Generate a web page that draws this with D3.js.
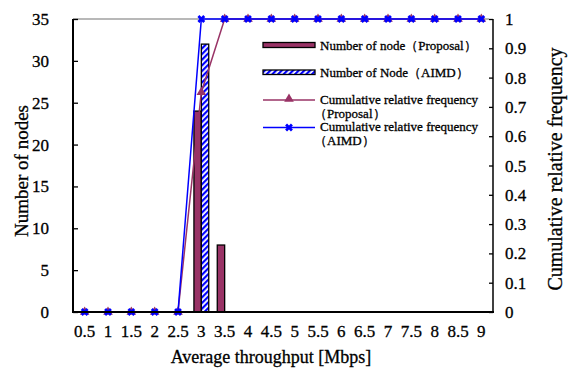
<!DOCTYPE html>
<html>
<head>
<meta charset="utf-8">
<script src="https://cdn.jsdelivr.net/npm/d3@7"></script>
<style>
  html, body { margin: 0; padding: 0; background: #fff; }
  svg { display: block; font-family: "Liberation Serif", "Times New Roman", serif; }
  svg text { fill: #000; stroke: #000; stroke-width: 0.3px; }
</style>
</head>
<body>
<svg id="chart" width="573" height="370"></svg>
<script>
// Throughput classes (Mbps)
const categories = ["0.5","1","1.5","2","2.5","3","3.5","4","4.5","5","5.5","6","6.5","7","7.5","8","8.5","9"];
// Node counts per class
const nodesProposal = [0,0,0,0,0,24,8,0,0,0,0,0,0,0,0,0,0,0];
const nodesAIMD     = [0,0,0,0,0,32,0,0,0,0,0,0,0,0,0,0,0,0];
// Cumulative relative frequency per class
const cumProposal = [0,0,0,0,0,0.75,1,1,1,1,1,1,1,1,1,1,1,1];
const cumAIMD     = [0,0,0,0,0,1,1,1,1,1,1,1,1,1,1,1,1,1];
// Axis ticks
const leftTicks = [0,5,10,15,20,25,30,35];
const rightTicks = [0,0.1,0.2,0.3,0.4,0.5,0.6,0.7,0.8,0.9,1];

const colProp = "#993366";
const colAIMD = "#0000ff";

const svg = d3.select("#chart");
const m = { left: 73, right: 493, top: 19, bottom: 312 };

const x = d3.scaleBand().domain(categories).range([m.left, m.right]);
const yL = d3.scaleLinear().domain([0, 35]).range([m.bottom, m.top]);
const yR = d3.scaleLinear().domain([0, 1]).range([m.bottom, m.top]);
const cx = c => x(c) + x.bandwidth() / 2;
const barW = 7.4;

// Stripe pattern for the AIMD bars
const defs = svg.append("defs");
const pat = defs.append("pattern")
  .attr("id", "stripes").attr("patternUnits", "userSpaceOnUse")
  .attr("width", 4).attr("height", 4)
  .attr("patternTransform", "rotate(45)");
pat.append("rect").attr("width", 4).attr("height", 4).attr("fill", "#fff");
pat.append("rect").attr("width", 2.2).attr("height", 4).attr("fill", colAIMD);

// Top border of the plot area
svg.append("line")
  .attr("x1", m.left).attr("x2", m.right - 4)
  .attr("y1", m.top).attr("y2", m.top)
  .attr("stroke", "#a0a0a0").attr("stroke-width", 1.5);

// Bars
svg.append("g").selectAll("rect")
  .data(categories.map((c, i) => ({ c, v: nodesProposal[i] })).filter(d => d.v > 0))
  .join("rect")
  .attr("x", d => cx(d.c) - barW)
  .attr("y", d => yL(d.v))
  .attr("width", barW)
  .attr("height", d => yL(0) - yL(d.v))
  .attr("fill", colProp).attr("stroke", "#000").attr("stroke-width", 1.3);

svg.append("g").selectAll("rect")
  .data(categories.map((c, i) => ({ c, v: nodesAIMD[i] })).filter(d => d.v > 0))
  .join("rect")
  .attr("x", d => cx(d.c))
  .attr("y", d => yL(d.v))
  .attr("width", barW)
  .attr("height", d => yL(0) - yL(d.v))
  .attr("fill", "url(#stripes)").attr("stroke", "#000").attr("stroke-width", 1.3);

// Cumulative lines
const line = d3.line().x(d => cx(d.c)).y(d => yR(d.v));
const propPts = categories.map((c, i) => ({ c, v: cumProposal[i] }));
const aimdPts = categories.map((c, i) => ({ c, v: cumAIMD[i] }));

svg.append("path").datum(propPts).attr("d", line)
  .attr("fill", "none").attr("stroke", colProp).attr("stroke-width", 1.5);
svg.append("g").selectAll("path").data(propPts).join("path")
  .attr("d", d3.symbol(d3.symbolTriangle, 40))
  .attr("transform", d => `translate(${cx(d.c)},${yR(d.v)})`)
  .attr("fill", colProp);

svg.append("path").datum(aimdPts).attr("d", line)
  .attr("fill", "none").attr("stroke", colAIMD).attr("stroke-width", 1.5);
svg.append("g").selectAll("path").data(aimdPts).join("path")
  .attr("d", d3.symbol(d3.symbolCross, 38))
  .attr("transform", d => `translate(${cx(d.c)},${yR(d.v)}) rotate(45)`)
  .attr("fill", colAIMD);

// Axes
const axL = svg.append("g").attr("transform", `translate(${m.left},0)`)
  .call(d3.axisRight(yL).tickValues(leftTicks).tickSize(5).tickFormat(d3.format("d")));
axL.select(".domain").remove();
axL.selectAll("text").remove();
axL.selectAll("line").attr("stroke", "#000").attr("stroke-width", 1.3);
svg.append("line").attr("x1", m.left).attr("x2", m.left)
  .attr("y1", m.top).attr("y2", m.bottom).attr("stroke", "#000").attr("stroke-width", 2);
svg.append("g").selectAll("text").data(leftTicks).join("text")
  .attr("x", 49).attr("y", d => yL(d) + 6)
  .attr("text-anchor", "end").attr("font-size", 17).text(d => d);

const axR = svg.append("g").attr("transform", `translate(${m.right},0)`)
  .call(d3.axisLeft(yR).tickValues(rightTicks).tickSize(4));
axR.select(".domain").remove();
axR.selectAll("text").remove();
axR.selectAll("line").attr("stroke", "#000").attr("stroke-width", 1.3);
svg.append("line").attr("x1", m.right).attr("x2", m.right)
  .attr("y1", m.top).attr("y2", m.bottom).attr("stroke", "#000").attr("stroke-width", 1.5);
svg.append("g").selectAll("text").data(rightTicks).join("text")
  .attr("x", 505).attr("y", d => yR(d) + 6)
  .attr("text-anchor", "start").attr("font-size", 17).text(d => d);

svg.append("line").attr("x1", m.left - 1).attr("x2", m.right + 1)
  .attr("y1", m.bottom).attr("y2", m.bottom).attr("stroke", "#000").attr("stroke-width", 2);

svg.append("g").selectAll("text").data(categories).join("text")
  .attr("x", d => cx(d)).attr("y", 337)
  .attr("text-anchor", "middle").attr("font-size", 17).text(d => d);

// Axis titles
svg.append("text").attr("x", (m.left + m.right) / 2 - 12).attr("y", 363)
  .attr("text-anchor", "middle").attr("font-size", 18).text("Average throughput [Mbps]");
svg.append("text").attr("transform", "translate(28,171) rotate(-90)")
  .attr("text-anchor", "middle").attr("font-size", 19).text("Number of nodes");
svg.append("text").attr("transform", "translate(562,169) rotate(-90)")
  .attr("text-anchor", "middle").attr("font-size", 20).text("Cumulative relative frequency");

// Legend
const lg = svg.append("g").attr("font-size", 13);
lg.append("rect").attr("x", 263).attr("y", 42.5).attr("width", 52).attr("height", 5)
  .attr("fill", colProp).attr("stroke", "#000").attr("stroke-width", 1.3);
lg.append("text").attr("x", 320).attr("y", 49.5).text("Number of node（Proposal）");
lg.append("rect").attr("x", 263).attr("y", 70).attr("width", 52).attr("height", 4.5)
  .attr("fill", "url(#stripes)").attr("stroke", "#000").attr("stroke-width", 1.3);
lg.append("text").attr("x", 320).attr("y", 76.5).text("Number of Node（AIMD）");

lg.append("line").attr("x1", 263).attr("x2", 315).attr("y1", 100).attr("y2", 100)
  .attr("stroke", colProp).attr("stroke-width", 1.5);
lg.append("path").attr("d", d3.symbol(d3.symbolTriangle, 40))
  .attr("transform", "translate(289,99)").attr("fill", colProp);
lg.append("text").attr("x", 320).attr("y", 104).text("Cumulative relative frequency");
lg.append("text").attr("x", 314).attr("y", 117.5).text("（Proposal）");

lg.append("line").attr("x1", 263).attr("x2", 315).attr("y1", 127.5).attr("y2", 127.5)
  .attr("stroke", colAIMD).attr("stroke-width", 1.5);
lg.append("path").attr("d", d3.symbol(d3.symbolCross, 38))
  .attr("transform", "translate(289,127.5) rotate(45)").attr("fill", colAIMD);
lg.append("text").attr("x", 320).attr("y", 131).text("Cumulative relative frequency");
lg.append("text").attr("x", 314).attr("y", 144.5).text("（AIMD）");
</script>
</body>
</html>
